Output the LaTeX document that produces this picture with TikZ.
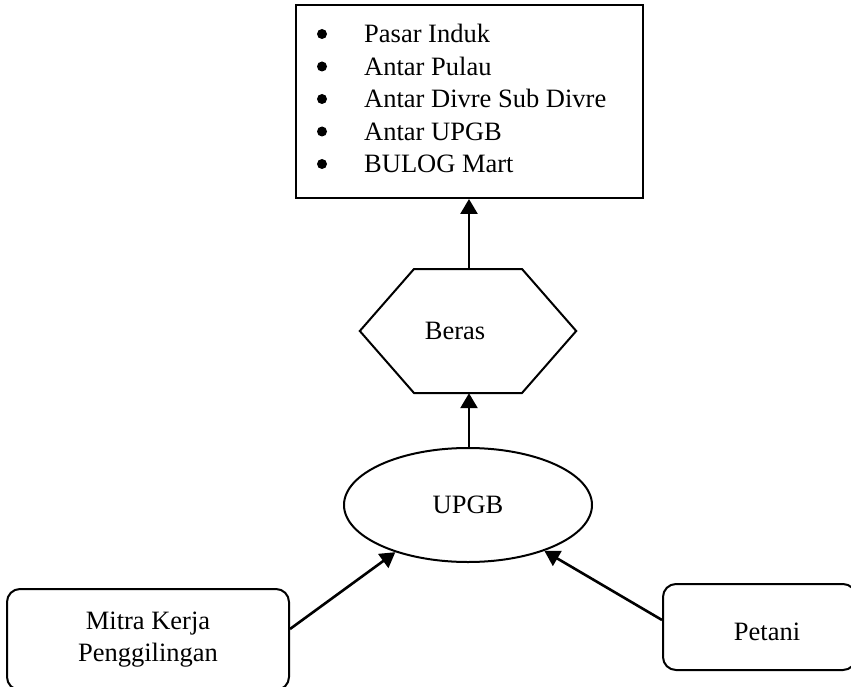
\documentclass[tikz,border=0pt]{standalone}
\usepackage{fontspec}
\setmainfont{Liberation Serif}
\usetikzlibrary{shapes.geometric,arrows.meta}
\tikzset{
  txt/.style={font=\fontsize{26.5}{32}\selectfont, inner sep=0pt},
  box/.style={draw, line width=2pt, rectangle, inner sep=0pt},
  rbox/.style={draw, line width=2pt, rectangle, rounded corners=13pt, inner sep=0pt, align=center, font=\fontsize{26.5}{32}\selectfont},
  conn/.style={line width=2.6pt, -{Triangle[length=15pt,width=17pt]}},
  bul/.style={circle, fill=black, inner sep=0pt, minimum size=10pt},
}
\begin{document}
\begin{tikzpicture}[x=1pt,y=-1pt]
\useasboundingbox (0,0) rectangle (851,687);
% top list box
\node[box, minimum width=347pt, minimum height=193pt] (dest) at (469.5,101.5) {};
\foreach \t [count=\i] in {Pasar Induk, Antar Pulau, Antar Divre Sub Divre, Antar UPGB, BULOG Mart}{
  \node[bul] (b\i) at (322,{34+32.5*(\i-1)}) {};
  \node[txt, anchor=base west] (l\i) at (364,{43+32.5*(\i-1)}) {\t};
}
% hexagon
\node[minimum width=216pt, minimum height=124pt, inner sep=0pt] (hex) at (468,331) {};
\draw[line width=2pt] (hex.west) -- (414,269) -- (522,269) -- (hex.east) -- (522,393) -- (414,393) -- cycle;
\node[txt] (beras) at (455,331) {Beras};
% ellipse
\node[draw, ellipse, line width=2pt, minimum width=248pt, minimum height=114pt, inner sep=0pt, font=\fontsize{26.5}{32}\selectfont] (upgb) at (468,505) {UPGB};
% bottom boxes
\node[rbox, minimum width=282pt, minimum height=101pt] (mitra) at (148,639.5) {Mitra Kerja\\Penggilingan};
\node[rbox, minimum width=193pt, minimum height=86pt] (petani) at (759.5,627) {};
\node[txt] (petanit) at (767,632) {Petani};
% connectors
\draw[conn] (hex.north -| 469,0) -- (dest.south -| 469,0);
\draw[conn] (upgb.north -| 469,0) -- (hex.south -| 469,0);
\draw[conn] ([yshift=10.5pt]mitra.east) -- (upgb.213);
\draw[conn] ([yshift=7pt]petani.west) -- (upgb.329);
\end{tikzpicture}
\end{document}
